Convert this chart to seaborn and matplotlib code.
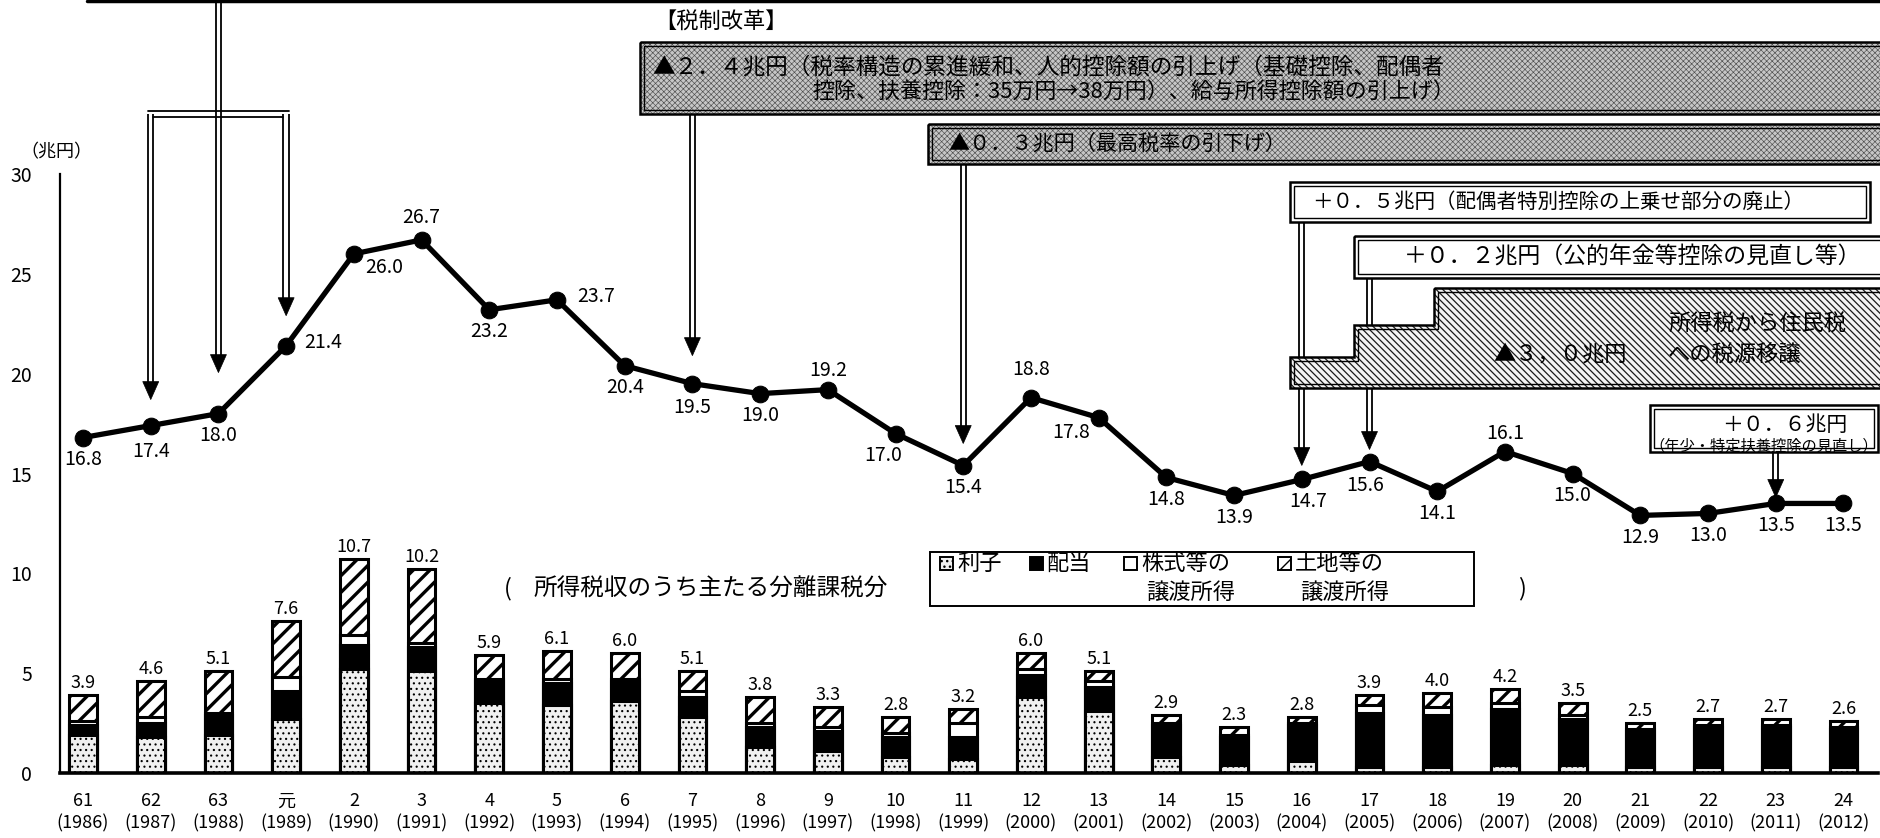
import numpy as np
import matplotlib
matplotlib.use("Agg")
import matplotlib.pyplot as plt
import seaborn as sns
from matplotlib.patches import Rectangle, Polygon

# ---------------------------------------------------------------- data
era_labels = ["61", "62", "63", "元", "2", "3", "4", "5", "6", "7", "8", "9",
              "10", "11", "12", "13", "14", "15", "16", "17", "18", "19", "20",
              "21", "22", "23", "24"]
calendar_years = [1986, 1987, 1988, 1989, 1990, 1991, 1992, 1993, 1994, 1995,
                  1996, 1997, 1998, 1999, 2000, 2001, 2002, 2003, 2004, 2005,
                  2006, 2007, 2008, 2009, 2010, 2011, 2012]

# income tax revenue (trillion yen)
income_tax = [16.8, 17.4, 18.0, 21.4, 26.0, 26.7, 23.2, 23.7, 20.4, 19.5,
              19.0, 19.2, 17.0, 15.4, 18.8, 17.8, 14.8, 13.9, 14.7, 15.6,
              14.1, 16.1, 15.0, 12.9, 13.0, 13.5, 13.5]

# main separately-taxed portion of income tax revenue (trillion yen)
separate_total = [3.9, 4.6, 5.1, 7.6, 10.7, 10.2, 5.9, 6.1, 6.0, 5.1,
                  3.8, 3.3, 2.8, 3.2, 6.0, 5.1, 2.9, 2.3, 2.8, 3.9,
                  4.0, 4.2, 3.5, 2.5, 2.7, 2.7, 2.6]
interest = [1.9, 1.8, 1.9, 2.7, 5.2, 5.1, 3.5, 3.4, 3.6, 2.8,
            1.3, 1.1, 0.8, 0.7, 3.8, 3.1, 0.8, 0.4, 0.6, 0.3,
            0.3, 0.4, 0.4, 0.3, 0.3, 0.3, 0.3]
dividends = [0.5, 0.7, 1.0, 1.4, 1.2, 1.2, 1.1, 1.1, 1.0, 1.0,
             1.0, 1.0, 1.0, 1.1, 1.1, 1.2, 1.6, 1.4, 1.8, 2.7,
             2.6, 2.8, 2.3, 1.8, 2.0, 2.0, 1.9]
stock_gains = [0.2, 0.3, 0.1, 0.7, 0.5, 0.2, 0.1, 0.2, 0.1, 0.3,
               0.2, 0.2, 0.2, 0.7, 0.3, 0.3, 0.1, 0.1, 0.1, 0.4,
               0.4, 0.3, 0.2, 0.1, 0.1, 0.1, 0.1]
land_gains = [1.3, 1.8, 2.1, 2.8, 3.8, 3.7, 1.2, 1.4, 1.3, 1.0,
              1.3, 1.0, 0.8, 0.7, 0.8, 0.5, 0.4, 0.4, 0.3, 0.5,
              0.7, 0.7, 0.6, 0.3, 0.3, 0.3, 0.3]

# ---------------------------------------------------------------- style
sns.set_theme(style="white")
plt.rcParams["font.family"] = ["Noto Sans CJK JP", "DejaVu Sans"]
for key in ("text.color", "axes.labelcolor", "xtick.color", "ytick.color",
            "axes.edgecolor"):
    plt.rcParams[key] = "black"
plt.rcParams["hatch.linewidth"] = 2.4

W, H = 1881, 838
fig = plt.figure(figsize=(W / 100, H / 100), dpi=100)
fig.patch.set_facecolor("white")

AX_L, AX_R, AX_T, AX_B = 60, 1878, 174, 773
ax = fig.add_axes([AX_L / W, (H - AX_B) / H, (AX_R - AX_L) / W, (AX_B - AX_T) / H])
ax.set_facecolor("white")

# overlay in image pixel coordinates (y downward) for the reform call-outs
ov = fig.add_axes([0, 0, 1, 1], zorder=5)
ov.set_xlim(0, W)
ov.set_ylim(H, 0)
ov.axis("off")
ov.patch.set_alpha(0)

pos = np.arange(len(calendar_years))
cum_div = np.add(interest, dividends)
cum_stock = cum_div + np.array(stock_gains)


def set_hatch_lw(patch, w):
    if hasattr(patch, "set_hatch_linewidth"):
        patch.set_hatch_linewidth(w)


# ---------------------------------------------------------------- stacked bars
layers = [
    (separate_total, "white", "//"),   # land etc. transfer income (top)
    (cum_stock, "white", None),        # stock etc. transfer income
    (cum_div, "black", None),          # dividends
    (interest, "#f0f0f0", "..."),      # interest (bottom)
]
for heights, face, hatch in layers:
    sns.barplot(x=pos, y=heights, native_scale=True, width=0.41, color=face,
                saturation=1, edgecolor="black", linewidth=2.2, errorbar=None,
                ax=ax, zorder=2)
    if hatch:
        for bar in ax.containers[-1]:
            bar.set_hatch(hatch)
            set_hatch_lw(bar, 2.4 if hatch == "//" else 0.8)

for i, v in enumerate(separate_total):
    ax.annotate(f"{v:.1f}", (i, v), xytext=(0, 3), textcoords="offset pixels",
                ha="center", va="bottom", fontsize=13, zorder=6)

# ---------------------------------------------------------------- income tax line
sns.lineplot(x=pos, y=income_tax, color="black", linewidth=3.8, marker="o",
             markersize=12, markeredgecolor="black", markerfacecolor="black",
             errorbar=None, ax=ax, zorder=4, legend=False)

below = (0, -22, "center")
label_place = [below, (0, -26, "center"), below, (18, 3, "left"),
               (30, -14, "center"), (0, 22, "center"), below, (20, 3, "left"),
               below, (0, -24, "center"), below, (0, 19, "center"),
               (-12, -22, "center"), below, (0, 28, "center"),
               (-28, -15, "center"), below, below, (6, -22, "center"),
               (-4, -24, "center"), below, (0, 18, "center"), below,
               below, below, below, below]
for i, (v, (dx, dy, ha)) in enumerate(zip(income_tax, label_place)):
    ax.annotate(f"{v:.1f}", (i, v), xytext=(dx, dy), textcoords="offset pixels",
                ha=ha, va="center", fontsize=14, zorder=6)

# ---------------------------------------------------------------- axes
ax.set_xlim(-0.34, 26.51)
ax.set_ylim(0, 30)
ax.set_yticks(range(0, 31, 5))
ax.set_yticklabels([str(t) for t in range(0, 31, 5)], fontsize=14)
ax.set_xticks(pos)
ax.set_xticklabels([f"{e}\n({y})" for e, y in zip(era_labels, calendar_years)],
                   fontsize=13, linespacing=1.3)
ax.set_xticks(pos + 0.5, minor=True)
ax.tick_params(axis="x", which="major", length=0, pad=14)
ax.tick_params(axis="x", which="minor", direction="in", length=7, width=1.5)
ax.tick_params(axis="y", direction="in", length=6, width=1.5, pad=20)
ax.set_xlabel("")
ax.set_ylabel("")
for side in ("top", "right"):
    ax.spines[side].set_visible(False)
ax.spines["left"].set_linewidth(1.6)
ax.spines["bottom"].set_linewidth(2.6)
ax.grid(False)

ov.text(56, 152, "（兆円）", ha="center", va="center", fontsize=13)


# ---------------------------------------------------------------- call-out helpers
def point_px(year, value):
    disp = ax.transData.transform((calendar_years.index(year), value))
    return ov.transData.inverted().transform(disp)


def shaft(x, y0, y1, z=4):
    for dx in (-2.7, 2.7):
        ov.plot([x + dx, x + dx], [y0, y1], color="black", lw=1.3,
                solid_capstyle="butt", zorder=z)


def arrow_to(year, y_start, gap):
    value = income_tax[calendar_years.index(year)]
    x, y = point_px(year, value)
    tip = y - gap
    shaft(x, y_start, tip - 17)
    ov.add_patch(Polygon([(x - 8, tip - 18), (x + 8, tip - 18), (x, tip)],
                         closed=True, facecolor="black", edgecolor="black",
                         lw=0.5, zorder=4))
    return x


def double_box(x0, y0, x1, y1, face, hatch=None, hcolor=None, hlw=0.5, z=6):
    fill = Rectangle((x0, y0), x1 - x0, y1 - y0, facecolor=face,
                     edgecolor=hcolor if hcolor else face, lw=0, hatch=hatch,
                     zorder=z)
    if hatch:
        set_hatch_lw(fill, hlw)
    ov.add_patch(fill)
    ov.add_patch(Rectangle((x0, y0), x1 - x0, y1 - y0, fill=False,
                           edgecolor="black", lw=1.8, zorder=z + 0.1))
    ov.add_patch(Rectangle((x0 + 4, y0 + 4), x1 - x0 - 8, y1 - y0 - 8, fill=False,
                           edgecolor="black", lw=1.0, zorder=z + 0.1))


# ---------------------------------------------------------------- top-left reforms
ov.plot([87, W], [1.5, 1.5], color="black", lw=2.5, zorder=4)
x87 = arrow_to(1987, 114, 26)
x88 = arrow_to(1988, 0, 41)
x89 = arrow_to(1989, 114, 30)
ov.plot([x87 - 2.7, x89 + 2.7], [111.3, 111.3], color="black", lw=1.3, zorder=4)
ov.plot([x87 + 2.7, x89 - 2.7], [116.7, 116.7], color="black", lw=1.3, zorder=4)

# ---------------------------------------------------------------- tax reform boxes
ov.text(654, 22, "【税制改革】", ha="left", va="center", fontsize=16, zorder=7)

double_box(640, 42, W + 10, 114, "#c6c6c6", hatch="xxxxxx", hcolor="#4e4e4e",
           hlw=0.45)
ov.text(652, 67, "▲２．４兆円（税率構造の累進緩和、人的控除額の引上げ（基礎控除、配偶者",
        ha="left", va="center", fontsize=16.3, zorder=7)
ov.text(812, 93, "控除、扶養控除：35万円→38万円）、給与所得控除額の引上げ）",
        ha="left", va="center", fontsize=15.8, zorder=7)
arrow_to(1995, 114, 28)

double_box(928, 124, W + 10, 164, "#c6c6c6", hatch="xxxxxx", hcolor="#4e4e4e",
           hlw=0.45)
ov.text(948, 144, "▲０．３兆円（最高税率の引下げ）", ha="left", va="center",
        fontsize=15.2, zorder=7)
arrow_to(1999, 164, 22)

double_box(1290, 182, 1870, 222, "white")
ov.text(1312, 202, "＋０．５兆円（配偶者特別控除の上乗せ部分の廃止）", ha="left",
        va="center", fontsize=14.8, zorder=7)
arrow_to(2004, 222, 14)

double_box(1354, 236, W + 10, 278, "white")
ov.text(1404, 257, "＋０．２兆円（公的年金等控除の見直し等）", ha="left",
        va="center", fontsize=16.5, zorder=7)
arrow_to(2005, 278, 12)

# stepped hatched box: tax source transfer to residents' tax
outer = [(1434, 288), (W + 10, 288), (W + 10, 388), (1290, 388), (1290, 357),
         (1354, 357), (1354, 325), (1434, 325)]
inner = [(1438, 292), (W + 10, 292), (W + 10, 384), (1294, 384), (1294, 361),
         (1358, 361), (1358, 329), (1438, 329)]
step_fill = Polygon(outer, closed=True, facecolor="#f4f4f4", edgecolor="#1a1a1a",
                    lw=0, hatch="\\\\\\\\\\", zorder=6)
set_hatch_lw(step_fill, 0.9)
ov.add_patch(step_fill)
ov.add_patch(Polygon(outer, closed=True, fill=False, edgecolor="black", lw=1.8,
                     zorder=6.1))
ov.add_patch(Polygon(inner, closed=True, fill=False, edgecolor="black", lw=1.0,
                     zorder=6.1))
ov.text(1560, 354, "▲３，０兆円", ha="center", va="center", fontsize=16, zorder=7)
ov.text(1668, 324, "所得税から住民税", ha="left", va="center", fontsize=16, zorder=7)
ov.text(1668, 355, "への税源移譲", ha="left", va="center", fontsize=16, zorder=7)

double_box(1650, 405, 1878, 452, "white")
ov.text(1785, 425, "＋０．６兆円", ha="center", va="center", fontsize=15, zorder=7)
ov.text(1764, 446, "（年少・特定扶養控除の見直し）", ha="center", va="center",
        fontsize=11, zorder=7)
arrow_to(2011, 452, 6)

# ---------------------------------------------------------------- legend
ov.text(504, 589, "(", ha="left", va="center", fontsize=17)
ov.text(534, 589, "所得税収のうち主たる分離課税分", ha="left", va="center", fontsize=17)
ov.text(1518, 589, ")", ha="left", va="center", fontsize=17)
ov.add_patch(Rectangle((930, 552), 1474 - 930, 606 - 552, fill=False,
                       edgecolor="black", lw=1.4))
legend_items = [
    (940, "#f0f0f0", "...", "利子", None),
    (1030, "black", None, "配当", None),
    (1124, "white", None, "株式等の", "譲渡所得"),
    (1278, "white", "//", "土地等の", "譲渡所得"),
]
for x0, face, hatch, line1, line2 in legend_items:
    sq = Rectangle((x0, 557), 13, 13, facecolor=face, edgecolor="black", lw=1.4,
                   hatch=hatch)
    if hatch:
        set_hatch_lw(sq, 1.0)
    ov.add_patch(sq)
    ov.text(x0 + 17, 563, line1, ha="left", va="center", fontsize=16)
    if line2:
        ov.text(x0 + 22, 592, line2, ha="left", va="center", fontsize=16)

fig.savefig("out.png", dpi=100, facecolor="white")
